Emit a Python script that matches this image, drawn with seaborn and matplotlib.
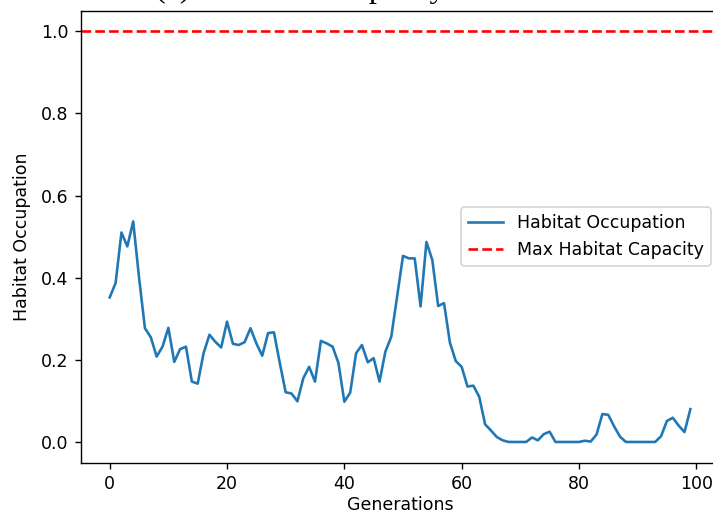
import matplotlib
matplotlib.use("Agg")
import matplotlib.pyplot as plt
import numpy as np
import pandas as pd
import seaborn as sns

# Habitat occupation per generation
generations = list(range(100))
occupation = [
    0.352, 0.387, 0.510, 0.476, 0.537, 0.400, 0.277, 0.255, 0.208, 0.232,
    0.278, 0.195, 0.226, 0.232, 0.147, 0.142, 0.216, 0.261, 0.244, 0.230,
    0.293, 0.239, 0.236, 0.243, 0.277, 0.240, 0.210, 0.265, 0.267, 0.192,
    0.121, 0.118, 0.099, 0.155, 0.183, 0.147, 0.246, 0.240, 0.232, 0.192,
    0.098, 0.120, 0.216, 0.236, 0.194, 0.204, 0.147, 0.220, 0.256, 0.354,
    0.453, 0.447, 0.447, 0.330, 0.487, 0.443, 0.331, 0.338, 0.242, 0.197,
    0.183, 0.135, 0.137, 0.110, 0.043, 0.028, 0.012, 0.004, 0.000, 0.000,
    0.000, 0.000, 0.011, 0.004, 0.019, 0.025, 0.000, 0.000, 0.000, 0.000,
    0.000, 0.003, 0.001, 0.018, 0.068, 0.066, 0.038, 0.013, 0.000, 0.000,
    0.000, 0.000, 0.000, 0.000, 0.014, 0.051, 0.059, 0.040, 0.024, 0.080,
]
max_capacity = 1.0

series_label = "Habitat Occupation"
capacity_label = "Max Habitat Capacity"
x_label = "Generations"
y_label = "Habitat Occupation"
caption = "(c) Habitat Occupancy"

df = pd.DataFrame({"generation": generations, "occupation": occupation})

DPI = 125
W, H = 713, 515
fig = plt.figure(figsize=(W / DPI, H / DPI), dpi=DPI)
# axes box in pixels: left 80.7, right 719.4 (runs past the right edge), top 10.7, bottom 462.5
ax = fig.add_axes([80.7 / W, 1 - 462.5 / H, (719.4 - 80.7) / W, (462.5 - 10.7) / H])

sns.lineplot(data=df, x="generation", y="occupation", ax=ax,
             color="#1f77b4", linewidth=1.5, label=series_label)
ax.axhline(max_capacity, color="r", linestyle="--", linewidth=1.5, label=capacity_label)

ax.set_xlabel(x_label, labelpad=2)
ax.set_ylabel(y_label, labelpad=6)
ax.set_xticks([0, 20, 40, 60, 80, 100])
ax.set_yticks([0.0, 0.2, 0.4, 0.6, 0.8, 1.0])
ax.legend(loc="center right")

# Caption of the panel above, only its lower edge falls inside the figure
fig.text(155 / W, 1 + 2.7 / H, caption, ha="left", va="baseline",
         fontsize=18.5, family=["Liberation Serif", "DejaVu Serif"])

fig.savefig("out.png", dpi=DPI)
